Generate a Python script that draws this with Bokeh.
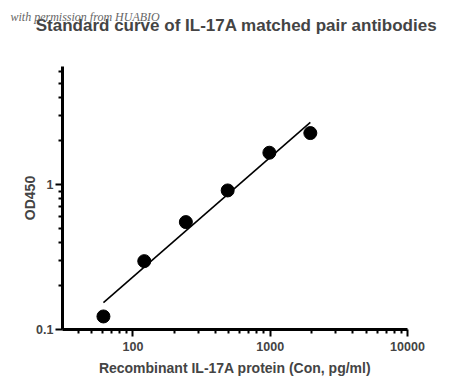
from bokeh.plotting import figure
from bokeh.models import FixedTicker, CustomJSTickFormatter, Label, Range1d
from bokeh.embed import file_html
from bokeh.resources import INLINE

# Data
conc = [61, 121, 243, 490, 986, 1960]          # pg/ml
od450 = [0.123, 0.296, 0.550, 0.909, 1.654, 2.26]
fit_x = [61, 1960]
fit_y = [0.153, 2.68]

x_major = [100, 1000, 10000]
x_minor = [40, 50, 60, 70, 80, 90, 200, 300, 400, 500, 600, 700, 800, 900,
           2000, 3000, 4000, 5000, 6000, 7000, 8000, 9000]
y_major = [0.1, 1]
y_minor = [0.2, 0.3, 0.4, 0.5, 0.6, 0.7, 0.8, 0.9, 2, 3, 4, 5, 6]

FONT = "Liberation Sans"
W, H = 442, 383

p = figure(width=W, height=H, x_axis_type="log", y_axis_type="log",
           x_range=Range1d(30.7, 10000), y_range=Range1d(0.1, 6.5),
           output_backend="svg", toolbar_location=None, title=None,
           min_border_left=62, min_border_right=35,
           min_border_top=66, min_border_bottom=54)

main_title = Label(x=174, y=32, x_units="screen", y_units="screen",
                   text="Standard curve of IL-17A matched pair antibodies",
                   text_font=FONT, text_font_size="17px", text_font_style="bold",
                   text_align="center", text_baseline="bottom")
p.add_layout(main_title, "above")

wm = Label(x=-52, y=24, x_units="screen", y_units="screen",
           text="with permission from HUABIO", text_font="Liberation Serif",
           text_font_style="italic", text_font_size="12px",
           text_color="#666666", text_baseline="bottom")
p.add_layout(wm, "above")

p.xgrid.visible = False
p.ygrid.visible = False
p.outline_line_color = None

for ax in (p.xaxis[0], p.yaxis[0]):
    ax.axis_line_width = 3
    ax.major_tick_line_width = 2
    ax.minor_tick_line_width = 2
    ax.major_tick_out = 7
    ax.major_tick_in = 0
    ax.minor_tick_out = 4
    ax.minor_tick_in = 0
    ax.major_label_text_font = FONT
    ax.major_label_text_font_style = "bold"
    ax.major_label_text_font_size = "12.5px"
    ax.axis_label_text_font = FONT
    ax.axis_label_text_font_style = "bold"
    ax.axis_label_text_font_size = "14px"
    ax.formatter = CustomJSTickFormatter(code="return String(tick);")

p.xaxis[0].ticker = FixedTicker(ticks=x_major, minor_ticks=x_minor)
p.yaxis[0].ticker = FixedTicker(ticks=y_major, minor_ticks=y_minor)
p.xaxis.axis_label = "Recombinant IL-17A protein (Con, pg/ml)"
p.yaxis.axis_label = "OD450"
p.xaxis.major_label_standoff = 5
p.yaxis.major_label_standoff = 2
p.xaxis.axis_label_standoff = 6
p.yaxis.axis_label_standoff = -5

p.line(fit_x, fit_y, line_color="black", line_width=1.6)
p.scatter(conc, od450, size=13, color="black")

open("out.html", "w").write(file_html(p, INLINE))
